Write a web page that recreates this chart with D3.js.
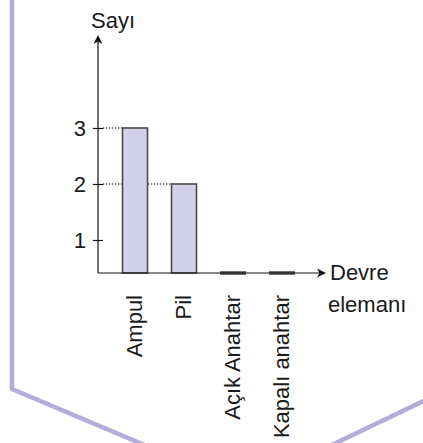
<!DOCTYPE html>
<html>
<head>
<meta charset="utf-8">
<script src="https://cdn.jsdelivr.net/npm/d3@7/dist/d3.min.js"></script>
<style>
  html, body { margin: 0; padding: 0; background: #fff; }
  svg { display: block; }
  text { font-family: "Liberation Sans", Arial, Helvetica, sans-serif; fill: #1a1a1a; }
</style>
</head>
<body>
<svg id="chart" width="423" height="443"></svg>
<script>
// ---- data ----
const categories = ["Ampul", "Pil", "Açık Anahtar", "Kapalı anahtar"];
const values = [3, 2, 0, 0];
const yTicks = [1, 2, 3];
const yTitle = "Sayı";
const xTitle = ["Devre", "elemanı"];

// ---- layout ----
const svg = d3.select("#chart");
const axisX = 98, axisY = 273, yTop = 35, xRight = 326;
const fontSize = 22;

// frame (decorative border)
svg.append("path")
  .attr("d", "M12,-5 L12,389 L244,487 L430,398")
  .attr("fill", "none")
  .attr("stroke", "#b4acd9")
  .attr("stroke-width", 4.5);

const y = d3.scaleLinear().domain([0, 3]).range([296, 128]);
const x = d3.scaleBand().domain(categories).range([110.5, 306.5])
  .paddingInner(0.49).paddingOuter(0.245);

const data = categories.map((c, i) => ({ c, v: values[i] }));

// dotted guide lines
svg.append("g").selectAll("line")
  .data(data.filter(d => d.v > 0))
  .join("line")
  .attr("x1", axisX + 5)
  .attr("x2", d => x(d.c))
  .attr("y1", d => y(d.v))
  .attr("y2", d => y(d.v))
  .attr("stroke", "#000")
  .attr("stroke-width", 1.1)
  .attr("stroke-dasharray", "1.3,1.7");

// bars
svg.append("g").selectAll("rect")
  .data(data.filter(d => d.v > 0))
  .join("rect")
  .attr("x", d => x(d.c))
  .attr("y", d => y(d.v))
  .attr("width", x.bandwidth())
  .attr("height", d => axisY - y(d.v))
  .attr("fill", "#d3d1e8")
  .attr("stroke", "#4a4a4a")
  .attr("stroke-width", 1.6);

// axes lines
svg.append("line")
  .attr("x1", axisX).attr("x2", axisX)
  .attr("y1", axisY).attr("y2", yTop + 3)
  .attr("stroke", "#111").attr("stroke-width", 1.2);
svg.append("line")
  .attr("x1", axisX).attr("x2", xRight - 3)
  .attr("y1", axisY).attr("y2", axisY)
  .attr("stroke", "#111").attr("stroke-width", 1.2);

// arrowheads
svg.append("path")
  .attr("d", `M${axisX},${yTop} L${axisX + 4.5},${yTop + 9} L${axisX},${yTop + 6.5} L${axisX - 4.5},${yTop + 9} Z`)
  .attr("fill", "#111");
svg.append("path")
  .attr("d", `M${xRight},${axisY} L${xRight - 9},${axisY - 4.5} L${xRight - 6.5},${axisY} L${xRight - 9},${axisY + 4.5} Z`)
  .attr("fill", "#111");

// zero-value bars as thick marks on the axis
svg.append("g").selectAll("rect")
  .data(data.filter(d => d.v === 0))
  .join("rect")
  .attr("x", d => x(d.c) - 0.5)
  .attr("y", axisY - 1.7)
  .attr("width", x.bandwidth() + 1)
  .attr("height", 3.4)
  .attr("fill", "#333");

// y axis ticks
const yAxis = d3.axisLeft(y).tickValues(yTicks).tickFormat(d3.format("d"))
  .tickSize(5).tickPadding(7);
const gy = svg.append("g").attr("transform", `translate(${axisX},0)`).call(yAxis);
gy.attr("font-size", fontSize).attr("font-family", null);
gy.select(".domain").remove();
gy.selectAll(".tick line").attr("x1", 5).attr("stroke", "#111").attr("stroke-width", 1.2);
gy.selectAll(".tick text")
  .attr("font-size", fontSize)
  .attr("fill", "#1a1a1a")
  .attr("dy", "0.36em");

// x category labels (rotated)
svg.append("g").selectAll("text")
  .data(categories)
  .join("text")
  .attr("transform", d => `translate(${x(d) + x.bandwidth() / 2 - 0.5},295) rotate(-90)`)
  .attr("text-anchor", "end")
  .attr("dy", "0.33em")
  .attr("font-size", fontSize)
  .text(d => d);

// axis titles
svg.append("text")
  .attr("x", axisX - 7).attr("y", 28)
  .attr("font-size", fontSize)
  .text(yTitle);
svg.append("text")
  .attr("x", 330).attr("y", 280)
  .attr("font-size", fontSize)
  .text(xTitle[0]);
svg.append("text")
  .attr("x", 328).attr("y", 312)
  .attr("font-size", fontSize)
  .text(xTitle[1]);
</script>
</body>
</html>
